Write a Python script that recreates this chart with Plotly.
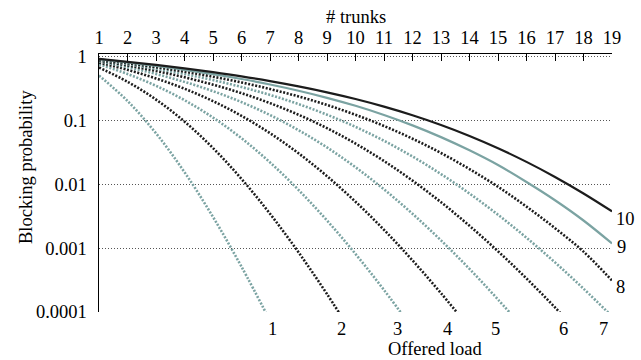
import plotly.graph_objects as go

# number of trunks (top axis)
trunks = list(range(1, 20))
trunk_labels = [str(n) for n in trunks]

# blocking probability per offered load (one value per trunk count)
load_1 = [0.5, 0.2, 0.0625, 0.0154, 0.00307, 0.000511, 0.000073]
load_2 = [0.667, 0.4, 0.2105, 0.0952, 0.0367, 0.01209, 0.00344, 0.00086, 0.000191, 0.0000382]
load_3 = [0.75, 0.529, 0.346, 0.206, 0.110, 0.0522, 0.0219, 0.00813, 0.0027, 0.00081, 0.000221, 0.0000552]
load_4 = [0.8, 0.615, 0.451, 0.311, 0.199, 0.117, 0.0627, 0.0304, 0.01334, 0.00531, 0.00193, 0.000642,
          0.000197, 0.0000564]
load_5 = [0.833, 0.676, 0.530, 0.398, 0.285, 0.192, 0.1205, 0.0700, 0.0375, 0.0184, 0.00829, 0.00344,
          0.00132, 0.000472, 0.000157, 0.0000491]
load_6 = [0.857, 0.72, 0.590, 0.470, 0.360, 0.265, 0.185, 0.1219, 0.0751, 0.0431, 0.0230, 0.01136,
          0.00522, 0.00223, 0.000892, 0.000334, 0.000118, 0.0000393]
load_7 = [0.875, 0.754, 0.638, 0.527, 0.425, 0.331, 0.249, 0.1788, 0.1221, 0.0787, 0.0477, 0.0271,
          0.01437, 0.00713, 0.00332, 0.00145, 0.000597, 0.000232, 0.0000855]
load_8 = [0.889, 0.780, 0.675, 0.575, 0.479, 0.390, 0.308, 0.2356, 0.1731, 0.1217, 0.0813, 0.0514,
          0.0307, 0.0172, 0.0091, 0.00445, 0.00205, 0.00088, 0.00031]
load_9 = [0.9, 0.802, 0.706, 0.614, 0.525, 0.441, 0.362, 0.289, 0.224, 0.168, 0.1208, 0.0831,
          0.0544, 0.0338, 0.0199, 0.0108, 0.0056, 0.0027, 0.00118]
load_10 = [0.909, 0.820, 0.732, 0.647, 0.564, 0.485, 0.409, 0.338, 0.273, 0.2146, 0.1632, 0.1197,
           0.0843, 0.0568, 0.0365, 0.0223, 0.01295, 0.00714, 0.00375]

series = [load_1, load_2, load_3, load_4, load_5, load_6, load_7, load_8, load_9, load_10]
load_names = ["1", "2", "3", "4", "5", "6", "7", "8", "9", "10"]

y_tickvals = [1, 0.1, 0.01, 0.001, 0.0001]
y_ticktext = ["1", "0.1", "0.01", "0.001", "0.0001"]

TEAL = "#7ba3a2"
BLACK = "#1c1c1c"
FONT = "Liberation Serif"
FS = 18.5

L, R, T, B = 99, 29, 54, 48
W, H = 641, 360
pw, ph = W - L - R, H - T - B


def px_to_paper(px, py):
    return (px - L) / pw, (H - B - py) / ph


fig = go.Figure()
for i, vals in enumerate(series):
    color = TEAL if i % 2 == 0 else BLACK
    dash = "solid" if i >= 8 else "2px,1.6px"
    fig.add_trace(go.Scatter(
        x=trunks[:len(vals)], y=vals, mode="lines", name=load_names[i],
        line=dict(color=color, width=2.6 if i < 8 else 2.2, dash=dash, shape="spline"),
        hoverinfo="skip", showlegend=False,
    ))

# curve label positions (pixels in the 641x360 picture)
label_pos = [(272, 329), (341, 329), (397, 329), (447, 329), (495, 329), (563, 329), (603, 329),
             (620, 287), (621, 247), (625, 219)]
for name, (px, py) in zip(load_names, label_pos):
    ax_, ay_ = px_to_paper(px, py)
    fig.add_annotation(x=ax_, y=ay_, xref="paper", yref="paper", text=name, showarrow=False,
                       font=dict(family=FONT, size=FS, color="black"), xanchor="center", yanchor="middle")

titles = [("# trunks", 356, 17, 0), ("Offered load", 435, 349, 0), ("Blocking probability", 26, 167, -90)]
for text, px, py, ang in titles:
    ax_, ay_ = px_to_paper(px, py)
    fig.add_annotation(x=ax_, y=ay_, xref="paper", yref="paper", text=text, showarrow=False,
                       textangle=ang, xanchor="center", yanchor="middle",
                       font=dict(family=FONT, size=FS, color="black"))

fig.update_layout(
    width=W, height=H,
    margin=dict(l=L, r=R, t=T, b=B),
    paper_bgcolor="white", plot_bgcolor="white",
    font=dict(family=FONT, size=FS, color="black"),
    hovermode=False,
    xaxis=dict(
        side="top", range=[1, 19], tickvals=trunks, ticktext=trunk_labels,
        showline=True, linecolor="black", linewidth=1.3,
        ticks="inside", ticklen=7, tickcolor="black", tickwidth=1,
        showgrid=False, zeroline=False, mirror=False, ticklabelstandoff=1,
        tickfont=dict(family=FONT, size=FS, color="black"),
    ),
    yaxis=dict(
        type="log", range=[-4, 0.036], tickvals=y_tickvals, ticktext=y_ticktext,
        showline=True, linecolor="black", linewidth=1.5,
        ticks="", showgrid=True, gridcolor="#555555", gridwidth=1, griddash="1px,2px",
        zeroline=False, ticklabelstandoff=7,
        tickfont=dict(family=FONT, size=FS, color="black"),
    ),
)

fig.write_html(
    "out.html",
    config={"displayModeBar": False, "staticPlot": True},
    post_script="document.body.style.margin='0';document.body.style.padding='0';",
)
